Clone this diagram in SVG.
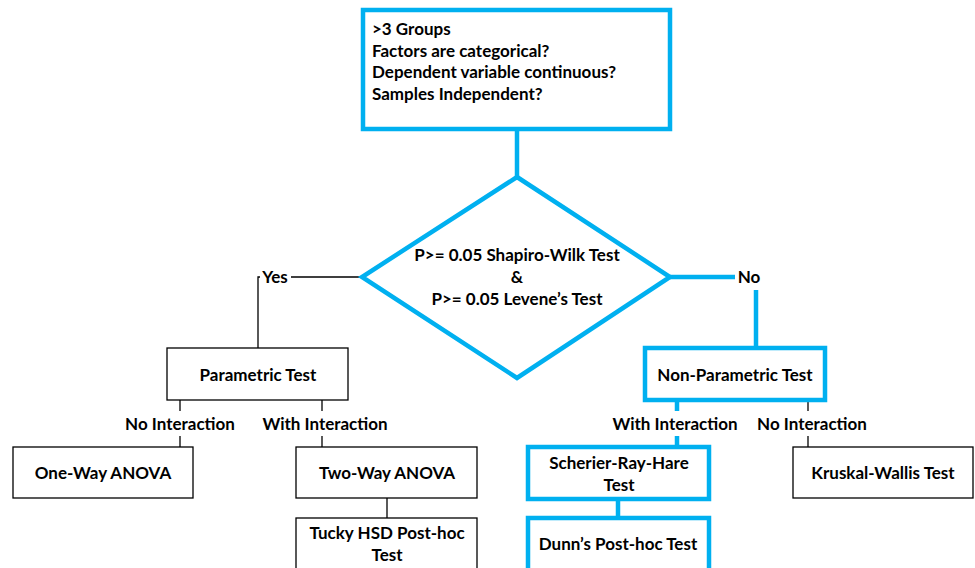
<svg xmlns="http://www.w3.org/2000/svg" width="975" height="568" viewBox="0 0 975 568">
<style>
text{font-family:"Lato","Liberation Sans",sans-serif;font-weight:bold;font-size:17px;fill:#000}
.c{text-anchor:middle}
.blue{fill:#fff;stroke:#00B0F0;stroke-width:4.5}
.blk{fill:#fff;stroke:#000;stroke-width:1.3}
.bl{stroke:#00B0F0;stroke-width:4.5;fill:none}
.kl{stroke:#000;stroke-width:1.3;fill:none}
</style>
<rect width="975" height="568" fill="#fff"/>
<g id="connectors">
<line class="bl" x1="517" y1="131" x2="517" y2="177"/>
<polyline class="kl" points="362,277 258,277 258,348"/>
<polyline class="bl" points="670,277 735,277"/>
<line class="bl" x1="756" y1="290" x2="756" y2="348"/>
<line class="kl" x1="180" y1="400" x2="180" y2="411"/>
<line class="kl" x1="180" y1="436" x2="180" y2="447"/>
<line class="kl" x1="322" y1="400" x2="322" y2="411"/>
<line class="kl" x1="322" y1="436" x2="322" y2="447"/>
<line class="kl" x1="387" y1="498" x2="387" y2="518"/>
<line class="bl" x1="677" y1="402" x2="677" y2="411"/>
<line class="bl" x1="677" y1="436" x2="677" y2="447"/>
<line class="bl" x1="618" y1="501" x2="618" y2="518"/>
<line class="kl" x1="808" y1="402" x2="808" y2="411"/>
<line class="kl" x1="808" y1="436" x2="808" y2="447"/>
<rect x="260" y="268" width="31" height="18" fill="#fff"/>
<text x="275" y="283" class="c">Yes</text>
<text x="749" y="283" class="c">No</text>
<text x="180" y="430" class="c">No Interaction</text>
<text x="325" y="430" class="c">With Interaction</text>
<text x="675" y="430" class="c">With Interaction</text>
<text x="812" y="430" class="c">No Interaction</text>
</g>
<g id="start">
<rect class="blue" x="363" y="10" width="307" height="119"/>
<text x="372" y="35">&gt;3 Groups</text>
<text x="372" y="57">Factors are categorical?</text>
<text x="372" y="78">Dependent variable continuous?</text>
<text x="372" y="100">Samples Independent?</text>
</g>
<g id="decision">
<polygon class="blue" points="517,177 670,277 517,378 362,277"/>
<text x="517" y="261" class="c">P&gt;= 0.05 Shapiro-Wilk Test</text>
<text x="517" y="283" class="c">&amp;</text>
<text x="517" y="305" class="c">P&gt;= 0.05 Levene’s Test</text>
</g>
<g id="parametric">
<rect class="blk" x="167" y="348" width="181" height="52"/>
<text x="258" y="381" class="c">Parametric Test</text>
</g>
<g id="oneway">
<rect class="blk" x="13" y="447" width="180" height="51"/>
<text x="103" y="479" class="c">One-Way ANOVA</text>
</g>
<g id="twoway">
<rect class="blk" x="296" y="447" width="181" height="51"/>
<text x="387" y="479" class="c">Two-Way ANOVA</text>
</g>
<g id="tucky">
<rect class="blk" x="296" y="518" width="181" height="60"/>
<text x="387" y="539" class="c">Tucky HSD Post-hoc</text>
<text x="387" y="561" class="c">Test</text>
</g>
<g id="nonparametric">
<rect class="blue" x="645" y="348" width="180" height="52"/>
<text x="735" y="381" class="c">Non-Parametric Test</text>
</g>
<g id="scherier">
<rect class="blue" x="528" y="447" width="181" height="52"/>
<text x="619" y="469" class="c">Scherier-Ray-Hare</text>
<text x="619" y="491" class="c">Test</text>
</g>
<g id="dunn">
<rect class="blue" x="528" y="518" width="181" height="60"/>
<text x="618" y="550" class="c">Dunn’s Post-hoc Test</text>
</g>
<g id="kruskal">
<rect class="blk" x="793" y="447" width="180" height="51"/>
<text x="883" y="479" class="c">Kruskal-Wallis Test</text>
</g>
</svg>
